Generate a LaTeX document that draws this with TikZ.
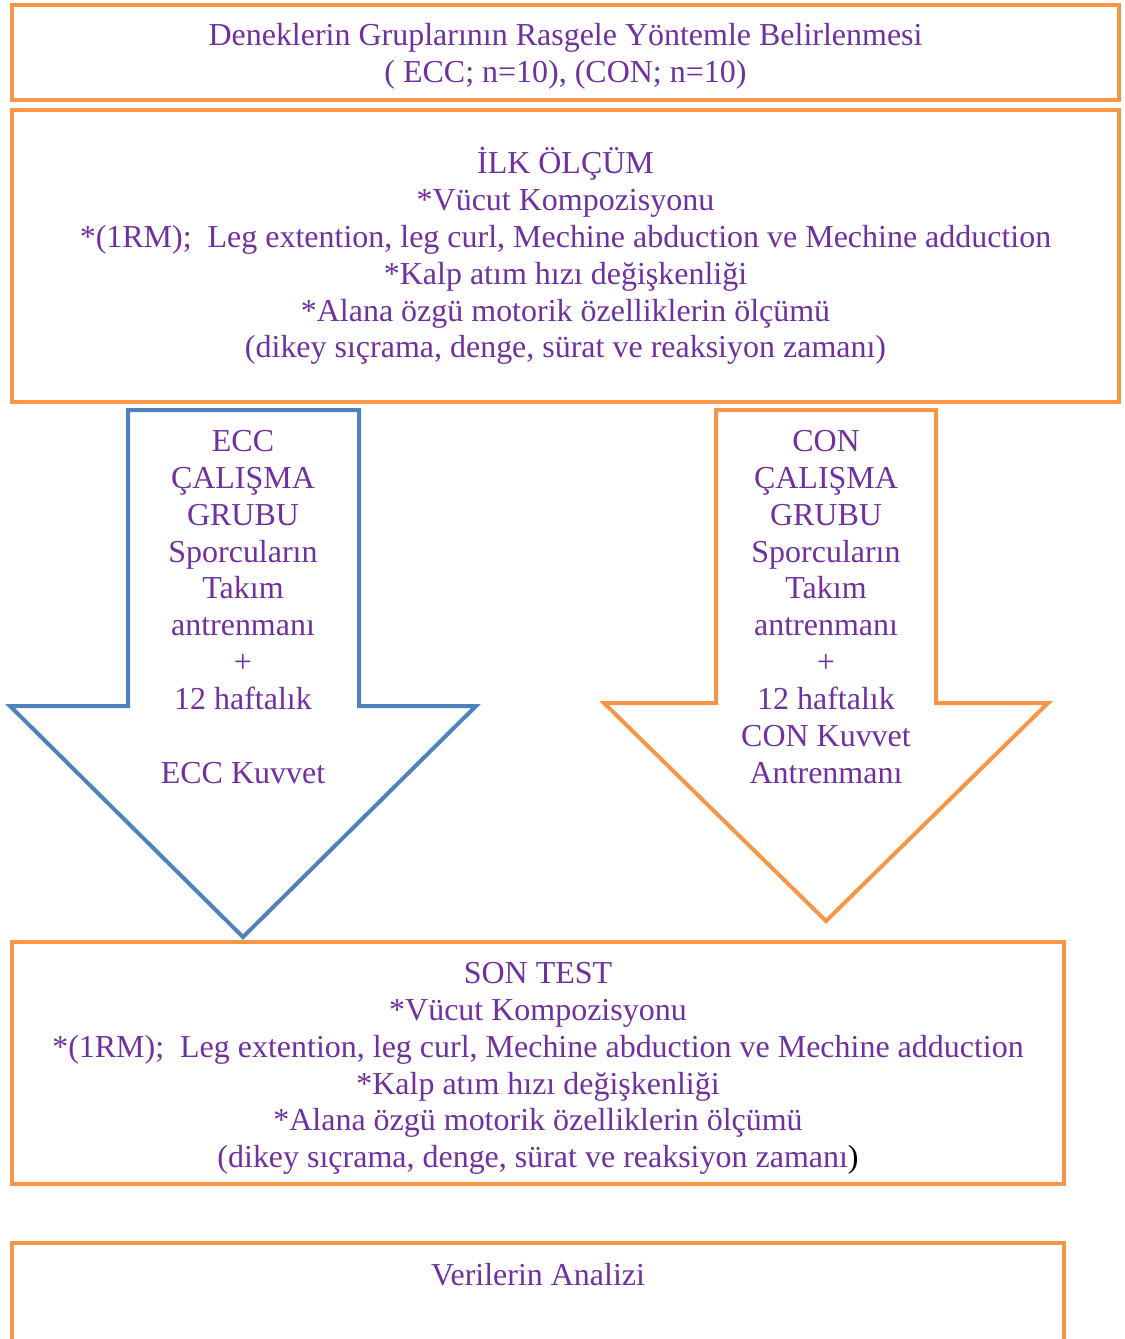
\documentclass[tikz,border=0pt]{standalone}
\usepackage{fontspec}
\setmainfont{Liberation Serif}
\usepackage{xcolor}
\usepackage{tikz}
\usetikzlibrary{positioning}

\definecolor{boxorange}{HTML}{F79646}
\definecolor{boxblue}{HTML}{4F81BD}
\definecolor{textpurple}{HTML}{7030A0}

\begin{document}
\begin{tikzpicture}[
    x=0.02cm, y=-0.02cm,
    font=\fontsize{18.2pt}{21pt}\selectfont,
    panel/.style={
        rectangle,
        draw=boxorange,
        line width=0.08cm,
        align=center,
        text=textpurple,
        inner sep=0pt
    },
    bigarrow/.style={
        line width=0.08cm,
        line join=miter
    },
    arrowtext/.style={
        align=center,
        text=textpurple,
        inner sep=0pt
    }
]
\useasboundingbox (0,0) rectangle (1125,1339);
\clip (0,0) rectangle (1125,1339);

\node[panel, minimum width=22.14cm, minimum height=1.90cm] (grouping) at (565.5,52.5) {\rule{0pt}{0.60cm}Deneklerin Gruplarının Rasgele Yöntemle Belirlenmesi\\(~ECC; n=10), (CON; n=10)};
\node[panel, minimum width=22.14cm, minimum height=5.84cm, below=0.12cm of grouping] (pretest) {İLK ÖLÇÜM\\*Vücut Kompozisyonu\\*(1RM);~~Leg extention, leg curl, Mechine abduction ve Mechine adduction\\*Kalp atım hızı değişkenliği\\*Alana özgü motorik özelliklerin ölçümü\\(dikey sıçrama, denge, sürat ve reaksiyon zamanı)};

\draw[bigarrow, draw=boxblue] (128,410) -- (359,410) -- (359,706) -- (476,706) -- (243,937) -- (10,706) -- (128,706) -- cycle;
\node[arrowtext] (ecctext) at (243,607) {ECC\\ÇALIŞMA\\GRUBU\\Sporcuların\\Takım\\antrenmanı\\+\\12 haftalık\\[21pt]ECC Kuvvet};

\draw[bigarrow, draw=boxorange] (716,410) -- (936,410) -- (936,703) -- (1048,703) -- (826,921) -- (604,703) -- (716,703) -- cycle;
\node[arrowtext] (context) at (826,607) {CON\\ÇALIŞMA\\GRUBU\\Sporcuların\\Takım\\antrenmanı\\+\\12 haftalık\\CON Kuvvet\\Antrenmanı};

\node[panel, minimum width=21.04cm, minimum height=4.84cm] (posttest) at (538,1063) {\rule{0pt}{0.64cm}SON TEST\\*Vücut Kompozisyonu\\*(1RM);~~Leg extention, leg curl, Mechine abduction ve Mechine adduction\\*Kalp atım hızı değişkenliği\\*Alana özgü motorik özelliklerin ölçümü\\(dikey sıçrama, denge, sürat ve reaksiyon zamanı{\color{black})}};
\node[panel, minimum width=21.04cm, minimum height=4cm, below=1.10cm of posttest] (analysis) {};
\node[arrowtext, below=0.44cm of analysis.north] (analysistext) {Verilerin Analizi};

\end{tikzpicture}
\end{document}
